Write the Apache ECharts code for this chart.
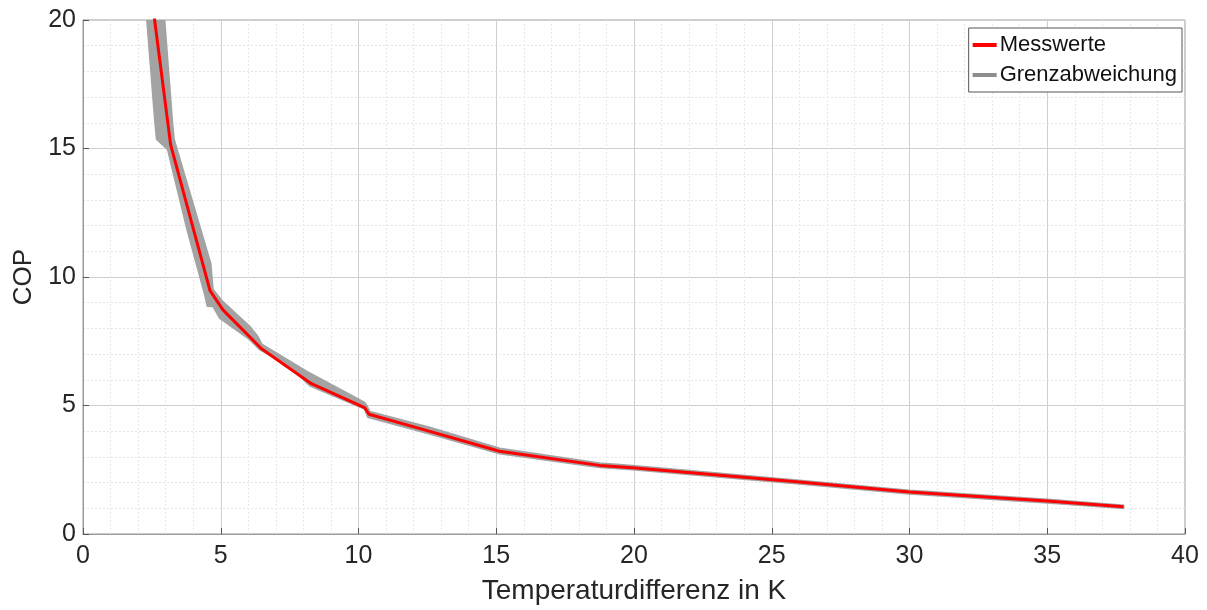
<!DOCTYPE html>
<html>
<head>
<meta charset="utf-8">
<script src="https://cdn.jsdelivr.net/npm/echarts@6/dist/echarts.min.js"></script>
<style>
html,body{margin:0;padding:0;background:#fff;}
#chart{width:1207px;height:610px;}
</style>
</head>
<body>
<div id="chart"></div>
<script>
// Measured values (Temperaturdifferenz in K, COP)
const messwerteT   = [2.54, 3.18, 4.61, 5.08, 6.48, 8.29, 10.22, 10.38, 12.30, 15.12, 18.75, 19.95, 26.0, 30.0, 35.0, 37.77];
const messwerteCOP = [20.5, 15.15, 9.47, 8.72, 7.21, 5.85, 4.92, 4.66, 4.08, 3.22, 2.67, 2.58, 2.02, 1.63, 1.28, 1.06];

// Grenzabweichung band: upper/right edge
const upperT   = [2.93, 3.25, 3.31, 4.64, 4.72, 5.08, 6.05, 6.35, 6.49, 8.11, 10.22, 10.30, 10.41, 12.58, 15.12, 18.75, 19.95, 26.0, 30.0, 35.0, 37.77];
const upperCOP = [20.5, 16.0, 15.35, 10.52, 9.52, 9.04, 8.08, 7.69, 7.39, 6.34, 5.12, 5.00, 4.77, 4.15, 3.34, 2.76, 2.67, 2.09, 1.70, 1.35, 1.12];
// Grenzabweichung band: lower/left edge
const lowerT   = [2.28, 2.61, 2.67, 3.07, 3.77, 4.42, 4.51, 4.72, 4.96, 6.05, 6.41, 7.50, 8.23, 10.22, 10.34, 12.58, 15.12, 18.75, 19.95, 26.0, 30.0, 35.0, 37.77];
const lowerCOP = [20.5, 16.0, 15.35, 14.96, 11.87, 9.30, 8.86, 8.85, 8.40, 7.56, 7.17, 6.53, 5.76, 4.86, 4.54, 3.89, 3.12, 2.59, 2.50, 1.95, 1.56, 1.21, 0.99];

const xTicks = [0, 5, 10, 15, 20, 25, 30, 35, 40];
const yTicks = [0, 5, 10, 15, 20];

const FONT = "'Liberation Sans', Arial, Helvetica, sans-serif";
const TXT = '#262626';

const redData = messwerteT.map((t, i) => [t, messwerteCOP[i]]);
const upperPts = upperT.map((t, i) => [t, upperCOP[i]]);
const lowerPts = lowerT.map((t, i) => [t, lowerCOP[i]]);

const chart = echarts.init(document.getElementById('chart'));
const axisCommon = {
  axisLine: {show: true, lineStyle: {color: '#9a9a9a', width: 1}},
  axisTick: {show: true, inside: true, length: 6, lineStyle: {color: '#555'}},
  axisLabel: {color: TXT, fontSize: 25, fontFamily: FONT},
  splitLine: {show: true, lineStyle: {color: '#cfcfcf', width: 1}},
  minorSplitLine: {show: true, lineStyle: {color: '#e6e6e6', type: [2, 2], width: 1}},
  minorTick: {show: false, splitNumber: 5},
  nameTextStyle: {color: TXT, fontFamily: FONT}
};

chart.setOption({
  animation: false,
  backgroundColor: '#fff',
  grid: {left: 83, right: 22, top: 20, bottom: 72, show: true, borderColor: '#9a9a9a', borderWidth: 1, backgroundColor: '#fff'},
  xAxis: Object.assign({}, axisCommon, {
    type: 'value', min: xTicks[0], max: xTicks[xTicks.length - 1], interval: 5,
    name: 'Temperaturdifferenz in K', nameLocation: 'middle', nameGap: 43,
    nameTextStyle: {color: TXT, fontFamily: FONT, fontSize: 28},
    axisLabel: Object.assign({}, axisCommon.axisLabel, {margin: 10})
  }),
  yAxis: Object.assign({}, axisCommon, {
    type: 'value', min: yTicks[0], max: yTicks[yTicks.length - 1], interval: 5,
    name: 'COP', nameLocation: 'middle', nameGap: 34,
    nameTextStyle: {color: TXT, fontFamily: FONT, fontSize: 26},
    axisLabel: Object.assign({}, axisCommon.axisLabel, {margin: 7})
  }),
  legend: {
    right: 25, top: 28, orient: 'vertical',
    backgroundColor: '#fff', borderColor: '#555', borderWidth: 1,
    padding: [6, 5, 6, 4], itemGap: 8, itemWidth: 24, itemHeight: 4,
    textStyle: {color: '#111', fontSize: 22, fontFamily: FONT, padding: [0, 0, 0, -2]},
    data: [
      {name: 'Messwerte', icon: 'rect', itemStyle: {color: '#ff0000'}},
      {name: 'Grenzabweichung', icon: 'rect', itemStyle: {color: '#8c8c8c'}}
    ]
  },
  series: [
    {
      name: 'Grenzabweichung', type: 'custom', clip: true, z: 2,
      itemStyle: {color: '#8c8c8c'},
      data: [[0, 0]],
      renderItem: function (params, api) {
        const pts = upperPts.map(p => api.coord(p)).concat(lowerPts.slice().reverse().map(p => api.coord(p)));
        return {
          type: 'polygon',
          shape: {points: pts},
          style: {fill: '#a3a3a3', stroke: '#a3a3a3', lineWidth: 1.5}
        };
      }
    },
    {
      name: 'Messwerte', type: 'line', data: redData, showSymbol: false, clip: true, z: 3,
      lineStyle: {color: '#ff0000', width: 3},
      itemStyle: {color: '#ff0000'}
    }
  ]
});
</script>
</body>
</html>
